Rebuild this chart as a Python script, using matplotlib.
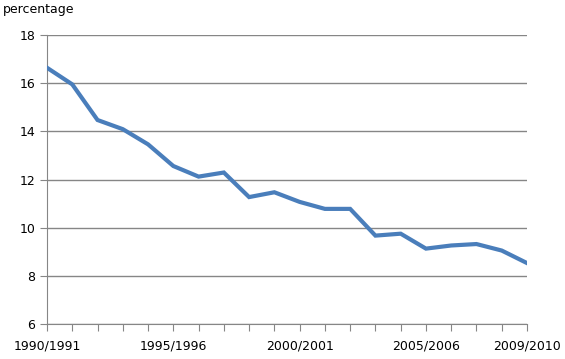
import numpy as np
import matplotlib
matplotlib.use("Agg")
import matplotlib.pyplot as plt

# school years 1990/1991 ... 2009/2010
years = ["%d/%d" % (y, y + 1) for y in range(1990, 2010)]
shown_labels = ["1990/1991", "1995/1996", "2000/2001", "2005/2006", "2009/2010"]

# percentage per school year
pct = [16.64, 15.95, 14.47, 14.09, 13.46, 12.56, 12.12, 12.29, 11.27, 11.47,
       11.07, 10.78, 10.78, 9.67, 9.75, 9.13, 9.26, 9.32, 9.05, 8.53]

grey = "#868686"

fig = plt.figure(figsize=(5.65, 3.59), dpi=100)
ax = fig.add_axes([47 / 565, 35 / 359, 480 / 565, 289 / 359])

x = np.arange(len(years))
ax.plot(x, pct, color="#4a7ebb", linewidth=3, solid_joinstyle="miter", zorder=3)

ax.set_xlim(0, len(years) - 1)
ax.set_ylim(6, 18)
ax.set_yticks(range(6, 19, 2))
ax.set_xticks(x)
ax.set_xticklabels([y if y in shown_labels else "" for y in years])

ax.yaxis.grid(True, color=grey, linewidth=1)
ax.set_axisbelow(True)
for side in ["top", "right"]:
    ax.spines[side].set_visible(False)
for side in ["left", "bottom"]:
    ax.spines[side].set_color(grey)
ax.tick_params(axis="both", colors=grey, labelcolor="black", labelsize=9, length=5)
ax.tick_params(axis="x", pad=6)

fig.text(3 / 565, 1 - 10 / 359, "percentage", fontsize=9, va="center", ha="left")

fig.savefig("out.png", dpi=100)
